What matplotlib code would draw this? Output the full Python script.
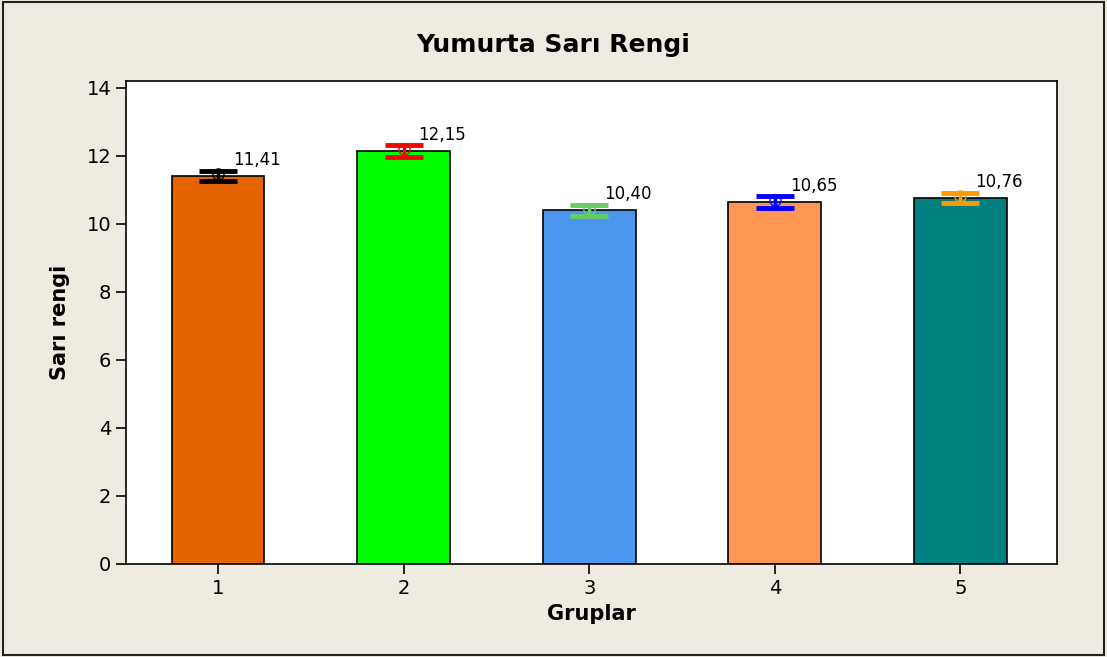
import matplotlib.pyplot as plt
from matplotlib.patches import Rectangle

# Datos
grupos = ['1', '2', '3', '4', '5']
medias = [11.41, 12.15, 10.40, 10.65, 10.76]
errores = [0.16, 0.17, 0.17, 0.17, 0.16]
etiquetas = ['11,41', '12,15', '10,40', '10,65', '10,76']
colores_barra = ['#E56400', '#00FF00', '#4D96F0', '#FF9655', '#008080']
colores_error = ['#000000', '#FF0000', '#66CC66', '#0000FF', '#FF9900']

fig = plt.figure(figsize=(11.07, 6.57), dpi=100)
fig.patch.set_facecolor('#EFEBE1')
# borde exterior
fig.patches.append(Rectangle((0.003, 0.003), 0.994, 0.994, transform=fig.transFigure,
                             fill=False, edgecolor='#222222', linewidth=1.5))

ax = fig.add_axes([0.1138, 0.1416, 0.841, 0.735])
x = list(range(1, len(grupos) + 1))
ax.bar(x, medias, width=0.5, color=colores_barra, edgecolor='black', linewidth=1.2, zorder=2)

for xi, m, e, c, t in zip(x, medias, errores, colores_error, etiquetas):
    ax.errorbar(xi, m, yerr=e, color=c, elinewidth=2.5, capsize=14, capthick=3.5, zorder=3)
    ax.plot(xi, m + 0.05, marker='o', markersize=8, markerfacecolor='none',
            markeredgecolor=c, markeredgewidth=1, zorder=4)
    ax.text(xi + 0.08, m + 0.2, t, fontsize=12, ha='left', va='bottom', zorder=5)

ax.set_xlim(0.504, 5.52)
ax.set_ylim(0, 14.2)
ax.set_xticks(x)
ax.set_xticklabels(grupos)
ax.set_yticks(range(0, 15, 2))
ax.tick_params(axis='both', labelsize=14, direction='out', length=7, width=1.2)
for s in ax.spines.values():
    s.set_linewidth(1.2)

ax.set_xlabel('Gruplar', fontsize=15, fontweight='bold', labelpad=5)
ax.set_ylabel('Sarı rengi', fontsize=15, fontweight='bold', labelpad=12)
fig.text(0.5, 0.932, 'Yumurta Sarı Rengi', ha='center', va='center',
         fontsize=18, fontweight='bold')

fig.savefig('out.png', dpi=100, facecolor=fig.get_facecolor())
